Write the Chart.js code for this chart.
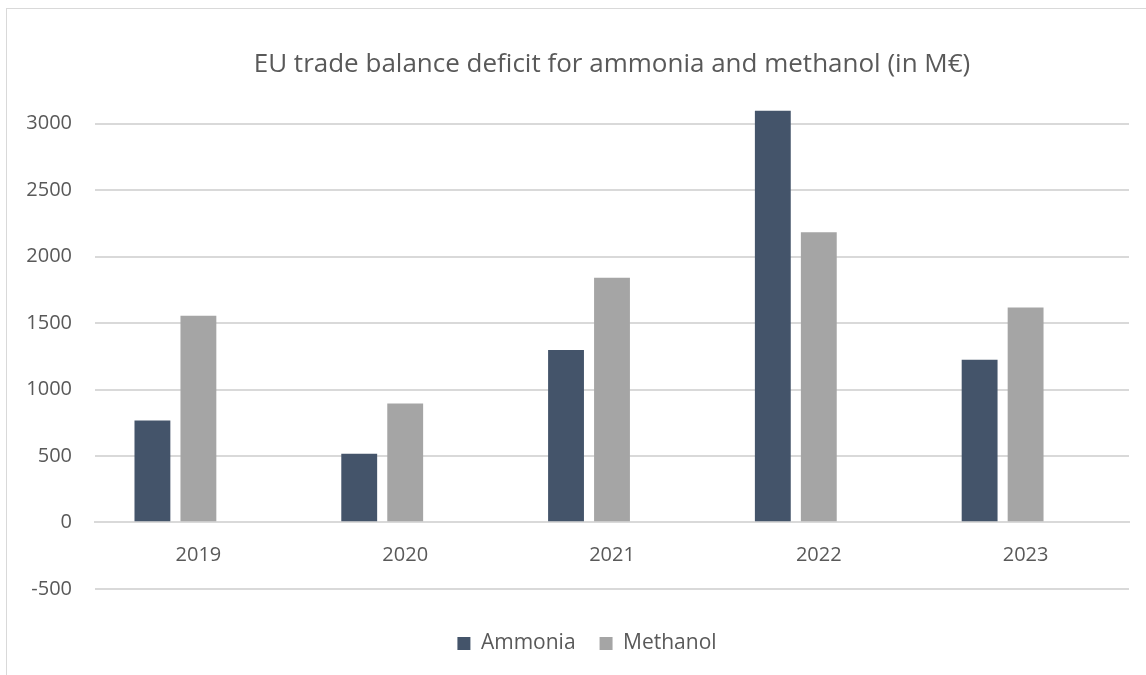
<!DOCTYPE html>
<html>
<head>
<meta charset="utf-8">
<script src="https://cdn.jsdelivr.net/npm/chart.js@4.4.1/dist/chart.umd.min.js"></script>
<style>
  body { margin: 0; background: #fff; overflow: hidden; }
  #frame { position: absolute; left: 6px; top: 8px; width: 1200px; height: 700px; border: 1px solid #d9d9d9; }
  #wrap { position: absolute; left: 0; top: 0; width: 1146px; height: 675px; }
</style>
</head>
<body>
<div id="frame"></div>
<div id="wrap"><canvas id="chart"></canvas></div>
<script>
const years = ['2019', '2020', '2021', '2022', '2023'];
const ammonia = [767, 517, 1298, 3098, 1223];
const methanol = [1555, 895, 1842, 2183, 1617];
// empty third series keeps the Excel-style slot to the right of each pair
const blankSeries = [null, null, null, null, null];
const yTicks = [-500, 0, 500, 1000, 1500, 2000, 2500, 3000];

const textColor = '#595959';
const gridColor = '#d9d9d9';
const fontFamily = "'Open Sans', 'Noto Sans', sans-serif";

// the original frame is wider than the screenshot, so its legend sits a bit right of centre
const legendShift = {
  id: 'legendShift',
  afterLayout(chart) {
    chart.legend.left = 45;
  }
};

const ctx = document.getElementById('chart').getContext('2d');
new Chart(ctx, {
  type: 'bar',
  data: {
    labels: years,
    datasets: [
      { label: 'Ammonia', data: ammonia, backgroundColor: '#44546a' },
      { label: 'Methanol', data: methanol, backgroundColor: '#a5a5a5' },
      { label: '', data: blankSeries, backgroundColor: 'rgba(0,0,0,0)' }
    ]
  },
  plugins: [legendShift],
  options: {
    responsive: true,
    maintainAspectRatio: false,
    animation: false,
    categoryPercentage: 0.667,
    barPercentage: 0.78,
    layout: { padding: { left: 0, right: 17, top: 0, bottom: 11 } },
    plugins: {
      title: {
        display: true,
        fullSize: false,
        text: 'EU trade balance deficit for ammonia and methanol (in M€)',
        color: textColor,
        font: { family: fontFamily, size: 26, weight: 'normal' },
        padding: { top: 49, bottom: 17 }
      },
      legend: {
        position: 'bottom',
        title: { display: true, text: ' ', font: { size: 1 }, padding: { top: 19, bottom: 0 } },
        labels: {
          color: textColor,
          font: { family: fontFamily, size: 21 },
          boxWidth: 13,
          boxHeight: 13,
          padding: 24,
          filter: item => item.text !== ''
        }
      },
      tooltip: { enabled: false }
    },
    scales: {
      x: {
        position: { y: 0 },
        grid: { display: false },
        border: { color: gridColor, width: 2 },
        ticks: { color: textColor, font: { family: fontFamily, size: 20 }, padding: 13 }
      },
      y: {
        min: -500,
        max: 3200,
        afterBuildTicks: scale => {
          scale.ticks = yTicks.map(v => ({ value: v }));
        },
        afterFit: scale => { scale.width = 95; },
        grid: { color: gridColor, lineWidth: 2, drawTicks: false },
        border: { display: false },
        ticks: {
          autoSkip: false,
          color: textColor,
          font: { family: fontFamily, size: 20 },
          padding: 23,
          callback: v => String(v)
        }
      }
    }
  }
});
</script>
</body>
</html>
